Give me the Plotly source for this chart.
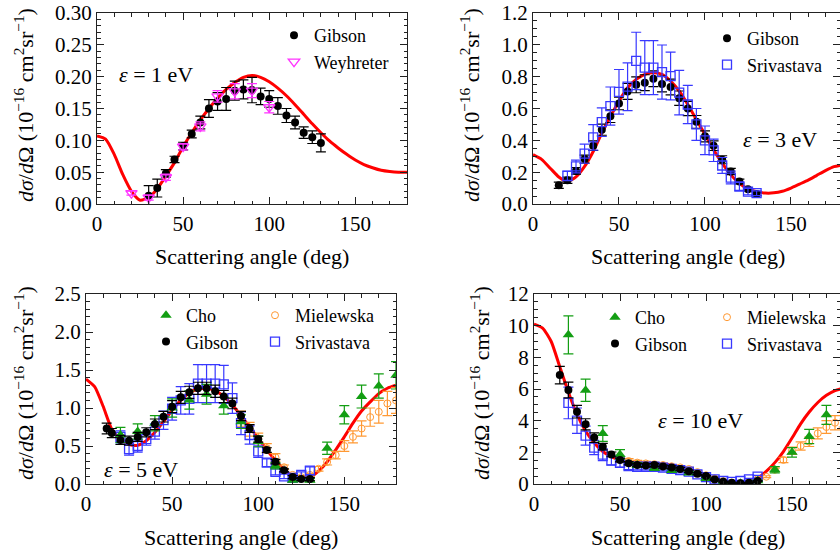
import plotly.graph_objects as go

# ---------------- data ----------------
th_x = list(range(0, 181, 5))

# 1 eV
th1_y = [0.107, 0.102, 0.078, 0.046, 0.020, 0.006, 0.010, 0.024, 0.044, 0.065, 0.090, 0.112,
         0.132, 0.150, 0.166, 0.180, 0.191, 0.199, 0.202, 0.199, 0.192, 0.182, 0.170, 0.156,
         0.141, 0.126, 0.112, 0.099, 0.088, 0.078, 0.069, 0.062, 0.057, 0.053, 0.051, 0.050, 0.050]
gib1_x = [30, 35, 40, 45, 50, 55, 60, 65, 70, 75, 80, 85, 90, 95, 100, 105, 110, 115, 120, 125, 130]
gib1_y = [0.013, 0.025, 0.048, 0.070, 0.091, 0.110, 0.128, 0.150, 0.161, 0.165, 0.178, 0.180,
          0.179, 0.169, 0.165, 0.154, 0.139, 0.128, 0.112, 0.105, 0.096]
gib1_e = [0.016, 0.014, 0.006, 0.005, 0.006, 0.006, 0.010, 0.014, 0.014, 0.018, 0.015, 0.015,
          0.020, 0.013, 0.013, 0.013, 0.011, 0.010, 0.009, 0.010, 0.014]
wey1_x = [20, 30, 40, 50, 60, 70, 80, 90, 100]
wey1_y = [0.017, 0.010, 0.042, 0.090, 0.122, 0.169, 0.177, 0.178, 0.152]
wey1_e = [0.003, 0.004, 0.005, 0.005, 0.007, 0.009, 0.012, 0.011, 0.009]

# 3 eV
th3_y = [0.31, 0.28, 0.225, 0.17, 0.14, 0.17, 0.236, 0.33, 0.446, 0.55, 0.646, 0.73, 0.783,
         0.815, 0.825, 0.815, 0.773, 0.71, 0.625, 0.53, 0.436, 0.34, 0.257, 0.183, 0.13, 0.095,
         0.078, 0.069, 0.07, 0.08, 0.10, 0.125, 0.15, 0.18, 0.21, 0.235, 0.245]
gib3_x = list(range(15, 131, 5))
gib3_y = [0.118, 0.149, 0.208, 0.282, 0.366, 0.467, 0.552, 0.632, 0.707, 0.749, 0.762, 0.787,
          0.754, 0.735, 0.665, 0.600, 0.516, 0.425, 0.366, 0.278, 0.204, 0.141, 0.093, 0.063]
gib3_e = [0.02, 0.02, 0.02, 0.025, 0.03, 0.035, 0.04, 0.04, 0.05, 0.05, 0.05, 0.05, 0.05, 0.05,
          0.045, 0.045, 0.04, 0.035, 0.03, 0.025, 0.02, 0.015, 0.01, 0.01]
sri3_x = list(range(20, 131, 5))
sri3_y = [0.177, 0.236, 0.316, 0.419, 0.514, 0.615, 0.705, 0.737, 0.899, 0.857, 0.857, 0.829,
          0.804, 0.70, 0.625, 0.50, 0.40, 0.337, 0.242, 0.166, 0.11, 0.078, 0.068]
sri3_e = [0.03, 0.04, 0.06, 0.08, 0.09, 0.12, 0.14, 0.15, 0.18, 0.17, 0.17, 0.17, 0.15, 0.14,
          0.12, 0.10, 0.09, 0.07, 0.05, 0.04, 0.025, 0.02, 0.015]

# 5 eV
th5_y = [1.38, 1.28, 1.02, 0.72, 0.58, 0.52, 0.51, 0.57, 0.68, 0.82, 0.97, 1.10, 1.20, 1.25,
         1.26, 1.23, 1.15, 1.04, 0.90, 0.75, 0.60, 0.45, 0.31, 0.19, 0.11, 0.08, 0.09, 0.17,
         0.29, 0.45, 0.62, 0.80, 0.96, 1.08, 1.19, 1.26, 1.30]
gib5_x = [12, 15, 20, 25, 30, 35, 40, 45, 50, 55, 60, 65, 70, 75, 80, 85, 90, 95, 100, 105, 110,
          115, 120, 125, 130]
gib5_y = [0.73, 0.67, 0.58, 0.57, 0.62, 0.68, 0.785, 0.886, 1.018, 1.14, 1.206, 1.259, 1.259,
          1.22, 1.15, 1.06, 0.895, 0.73, 0.59, 0.447, 0.294, 0.18, 0.092, 0.065, 0.065]
gib5_e = [0.07, 0.06, 0.06, 0.06, 0.06, 0.06, 0.07, 0.07, 0.08, 0.08, 0.08, 0.08, 0.08, 0.08,
          0.08, 0.07, 0.06, 0.05, 0.04, 0.03, 0.03, 0.02, 0.02, 0.02, 0.02]
cho5_x = [20, 30, 40, 50, 60, 70, 80, 90, 100, 110, 120, 130, 140, 150, 160, 170, 180]
cho5_y = [0.645, 0.69, 0.80, 1.0, 1.105, 1.18, 1.03, 0.82, 0.56, 0.24, 0.05, 0.05, 0.47, 0.91,
          1.15, 1.29, 1.43]
cho5_e = [0.10, 0.10, 0.10, 0.12, 0.12, 0.13, 0.11, 0.09, 0.07, 0.04, 0.02, 0.02, 0.08, 0.12,
          0.15, 0.16, 0.18]
mie5_x = [90, 95, 100, 105, 110, 115, 120, 125, 130, 135, 140, 145, 150, 155, 160, 165, 170, 175, 180]
mie5_y = [0.86, 0.72, 0.60, 0.47, 0.35, 0.22, 0.12, 0.09, 0.12, 0.20, 0.29, 0.38, 0.50, 0.62,
          0.73, 0.88, 0.95, 1.06, 1.10]
mie5_e = [0.10, 0.09, 0.07, 0.06, 0.05, 0.03, 0.02, 0.02, 0.02, 0.03, 0.04, 0.05, 0.07, 0.08,
          0.10, 0.12, 0.15, 0.16, 0.17]
sri5_x = list(range(20, 131, 5))
sri5_y = [0.62, 0.46, 0.50, 0.59, 0.69, 0.84, 0.99, 1.10, 1.12, 1.32, 1.32, 1.32, 1.31, 1.13,
          0.80, 0.645, 0.43, 0.28, 0.16, 0.10, 0.08, 0.12, 0.175]
sri5_e = [0.08, 0.08, 0.08, 0.08, 0.10, 0.12, 0.15, 0.18, 0.20, 0.25, 0.25, 0.25, 0.25, 0.20,
          0.15, 0.12, 0.08, 0.05, 0.04, 0.03, 0.03, 0.04, 0.05]

# 10 eV
th10_y = [10.1, 9.85, 9.0, 7.4, 5.8, 4.4, 3.35, 2.6, 2.05, 1.72, 1.5, 1.38, 1.33, 1.31, 1.3,
          1.27, 1.2, 1.08, 0.92, 0.73, 0.52, 0.32, 0.16, 0.06, 0.03, 0.1, 0.35, 0.8, 1.35, 2.05,
          2.9, 3.8, 4.55, 5.15, 5.6, 5.9, 6.05]
gib10_x = list(range(15, 131, 5))
gib10_y = [6.88, 5.94, 4.57, 3.77, 2.93, 2.36, 1.87, 1.52, 1.31, 1.2, 1.17, 1.2, 1.1, 1.05, 0.95,
           0.8, 0.65, 0.5, 0.29, 0.15, 0.08, 0.04, 0.08, 0.19]
gib10_e = [0.55, 0.5, 0.4, 0.35, 0.3, 0.2, 0.15, 0.12, 0.1, 0.1, 0.1, 0.1, 0.1, 0.1, 0.1, 0.08,
           0.06, 0.05, 0.04, 0.03, 0.02, 0.02, 0.02, 0.03]
cho10_x = [20, 30, 40, 50, 60, 70, 80, 90, 100, 110, 120, 130, 140, 150, 160, 170]
cho10_y = [9.42, 5.92, 3.19, 1.87, 1.2, 1.0, 0.85, 0.7, 0.34, 0.1, 0.05, 0.2, 0.9, 2.0, 3.0, 4.37]
cho10_e = [1.2, 0.7, 0.5, 0.3, 0.15, 0.12, 0.1, 0.1, 0.06, 0.03, 0.02, 0.05, 0.2, 0.3, 0.45, 0.6]
mie10_x = [55, 60, 65, 70, 75, 80, 85, 90, 95, 100, 105, 110, 115, 120, 125, 130, 135, 140, 145,
           150, 155, 160, 165, 170, 175, 180]
mie10_y = [1.45, 1.35, 1.3, 1.25, 1.2, 1.12, 1.05, 0.95, 0.75, 0.55, 0.35, 0.18, 0.08, 0.05,
           0.12, 0.3, 0.46, 0.9, 1.52, 2.1, 2.4, 2.67, 3.2, 3.6, 3.87, 4.1]
mie10_e = [0.15, 0.14, 0.13, 0.12, 0.12, 0.11, 0.1, 0.1, 0.08, 0.06, 0.04, 0.02, 0.01, 0.01, 0.02,
           0.04, 0.06, 0.1, 0.17, 0.23, 0.26, 0.3, 0.35, 0.4, 0.45, 0.5]
sri10_x = list(range(20, 131, 5))
sri10_y = [5.12, 4.0, 3.06, 2.3, 1.85, 1.49, 1.34, 1.13, 1.09, 1.09, 1.09, 1.03, 0.96, 0.88,
           0.78, 0.61, 0.44, 0.29, 0.19, 0.13, 0.19, 0.29, 0.46]
sri10_e = [1.0, 0.8, 0.6, 0.45, 0.37, 0.3, 0.27, 0.22, 0.2, 0.2, 0.2, 0.2, 0.19, 0.18, 0.16, 0.12,
           0.09, 0.06, 0.04, 0.03, 0.04, 0.06, 0.09]

x_ticks = [0, 50, 100, 150]

# ---------------- styling ----------------
W, H = 840, 560
FONT = "Liberation Serif, Times New Roman, serif"
RED = "#ff0000"
BLACK = "#000000"
MAG = "#ff33ff"
BLUE = "#3838ff"
GREEN = "#139e13"
ORANGE = "#ff9933"


def fx(p):
    return p / W


def fy(p):
    return 1 - p / H


fig = go.Figure()


def theory(xa, ya, y):
    fig.add_trace(go.Scatter(x=th_x, y=y, mode="lines", xaxis=xa, yaxis=ya,
                             line=dict(color=RED, width=3, shape="spline", smoothing=0.6),
                             showlegend=False, hoverinfo="skip"))


def data(xa, ya, x, y, e, name, color, symbol, size, legend, rank, lw=1.3):
    fig.add_trace(go.Scatter(
        x=x, y=y, mode="markers", name=name, xaxis=xa, yaxis=ya, legend=legend,
        legendrank=rank,
        marker=dict(color=color, symbol=symbol, size=size, line=dict(color=color, width=lw)),
        error_y=dict(type="data", array=e, visible=True, color=color,
                     thickness=1.2, width=5)))


# panel 1 (1 eV)
theory("x", "y", th1_y)
data("x", "y", gib1_x, gib1_y, gib1_e, "Gibson", BLACK, "circle", 8, "legend", 1, 0)
data("x", "y", wey1_x, wey1_y, wey1_e, "Weyhreter", MAG, "triangle-down-open", 10, "legend", 2)
# panel 2 (3 eV)
theory("x2", "y2", th3_y)
data("x2", "y2", gib3_x, gib3_y, gib3_e, "Gibson", BLACK, "circle", 8, "legend2", 1, 0)
data("x2", "y2", sri3_x, sri3_y, sri3_e, "Srivastava", BLUE, "square-open", 9, "legend2", 2)
# panel 3 (5 eV)
theory("x3", "y3", th5_y)
data("x3", "y3", mie5_x, mie5_y, mie5_e, "Mielewska", ORANGE, "circle-open", 7, "legend4", 1, 1)
data("x3", "y3", sri5_x, sri5_y, sri5_e, "Srivastava", BLUE, "square-open", 9, "legend4", 2)
data("x3", "y3", cho5_x, cho5_y, cho5_e, "Cho", GREEN, "triangle-up", 10, "legend3", 1, 0)
data("x3", "y3", gib5_x, gib5_y, gib5_e, "Gibson", BLACK, "circle", 8, "legend3", 2, 0)
# panel 4 (10 eV)
theory("x4", "y4", th10_y)
data("x4", "y4", mie10_x, mie10_y, mie10_e, "Mielewska", ORANGE, "circle-open", 7, "legend6", 1, 1)
data("x4", "y4", sri10_x, sri10_y, sri10_e, "Srivastava", BLUE, "square-open", 9, "legend6", 2)
data("x4", "y4", cho10_x, cho10_y, cho10_e, "Cho", GREEN, "triangle-up", 10, "legend5", 1, 0)
data("x4", "y4", gib10_x, gib10_y, gib10_e, "Gibson", BLACK, "circle", 8, "legend5", 2, 0)

tickfont = dict(family=FONT, size=21, color="black")


def xaxis(dom, anchor, rng):
    return dict(domain=dom, anchor=anchor, range=rng, tickvals=x_ticks, ticks="inside",
                ticklen=7, tickcolor="#222", showline=True, linecolor="#222", linewidth=1,
                mirror="allticks", showgrid=False, zeroline=False, tickfont=tickfont,
                minor=dict(dtick=10, ticks="inside", ticklen=3.5, tickcolor="#222"),
                ticklabelstandoff=1, automargin=False, ticklabeloverflow="allow")


def yaxis(dom, anchor, rng, dtick, minor, fmt):
    return dict(domain=dom, anchor=anchor, range=rng, dtick=dtick, tick0=0, ticks="inside",
                ticklen=7, tickcolor="#222", showline=True, linecolor="#222", linewidth=1,
                mirror="allticks", showgrid=False, zeroline=False, tickfont=tickfont,
                tickformat=fmt,
                minor=dict(dtick=minor, ticks="inside", ticklen=3.5, tickcolor="#222"),
                ticklabelstandoff=0, automargin=False, ticklabeloverflow="allow")


top = [fy(204), fy(13)]
bot = [fy(484), fy(294)]

legfont = dict(family=FONT, size=18, color="black")


def leg(x, y):
    return dict(x=fx(x), y=fy(y), xanchor="left", yanchor="top", font=legfont,
                bgcolor="rgba(0,0,0,0)", borderwidth=0, itemclick=False, tracegroupgap=0)


fig.update_layout(
    width=W, height=H, margin=dict(l=0, r=0, t=0, b=0, autoexpand=False),
    paper_bgcolor="white", plot_bgcolor="white",
    font=dict(family=FONT, color="black"),
    hovermode=False,
    xaxis=xaxis([fx(97), fx(407)], "y", [0, 180]),
    yaxis=yaxis(top, "x", [0, 0.30], 0.05, 0.01, ".2f"),
    xaxis2=xaxis([fx(533), 1.0], "y2", [0, 178.5]),
    yaxis2=yaxis(top, "x2", [0, 1.2], 0.2, 0.05, ".1f"),
    xaxis3=xaxis([fx(86), fx(396)], "y3", [0, 180]),
    yaxis3=yaxis(bot, "x3", [0, 2.5], 0.5, 0.1, ".1f"),
    xaxis4=xaxis([fx(534), 1.0], "y4", [0, 177.9]),
    yaxis4=yaxis(bot, "x4", [0, 12], 2, 0.5, "d"),
    legend=leg(274, 17),
    legend2=leg(707, 20),
    legend3=leg(146, 297),
    legend4=leg(255, 297),
    legend5=leg(595, 299),
    legend6=leg(707, 299),
    showlegend=True,
)

ann_font = dict(family=FONT, size=22, color="black")
xtitle = "Scattering angle (deg)"
ytitle = "<i>dσ</i>/<i>d</i>Ω (10<sup>−16</sup> cm<sup>2</sup>sr<sup>−1</sup>)"
anns = [
    (252, 257, xtitle, 0), (688, 257, xtitle, 0), (241, 537, xtitle, 0), (688, 537, xtitle, 0),
    (24, 105, ytitle, -90), (470, 105, ytitle, -90), (24, 383, ytitle, -90), (480, 383, ytitle, -90),
    (156, 75, "<i>ε</i> = 1 eV", 0), (780, 139, "<i>ε</i> = 3 eV", 0),
    (141, 469, "<i>ε</i> = 5 eV", 0), (700, 420, "<i>ε</i> = 10 eV", 0),
]
for x, y, t, ang in anns:
    fig.add_annotation(x=fx(x), y=fy(y), xref="paper", yref="paper", text=t, showarrow=False,
                       textangle=ang, xanchor="center", yanchor="middle", font=ann_font)

# remove the default page margin so the 840x560 figure fills the window exactly
fig.write_html("out.html", config={"displayModeBar": False},
               post_script="document.body.style.margin='0px';")
